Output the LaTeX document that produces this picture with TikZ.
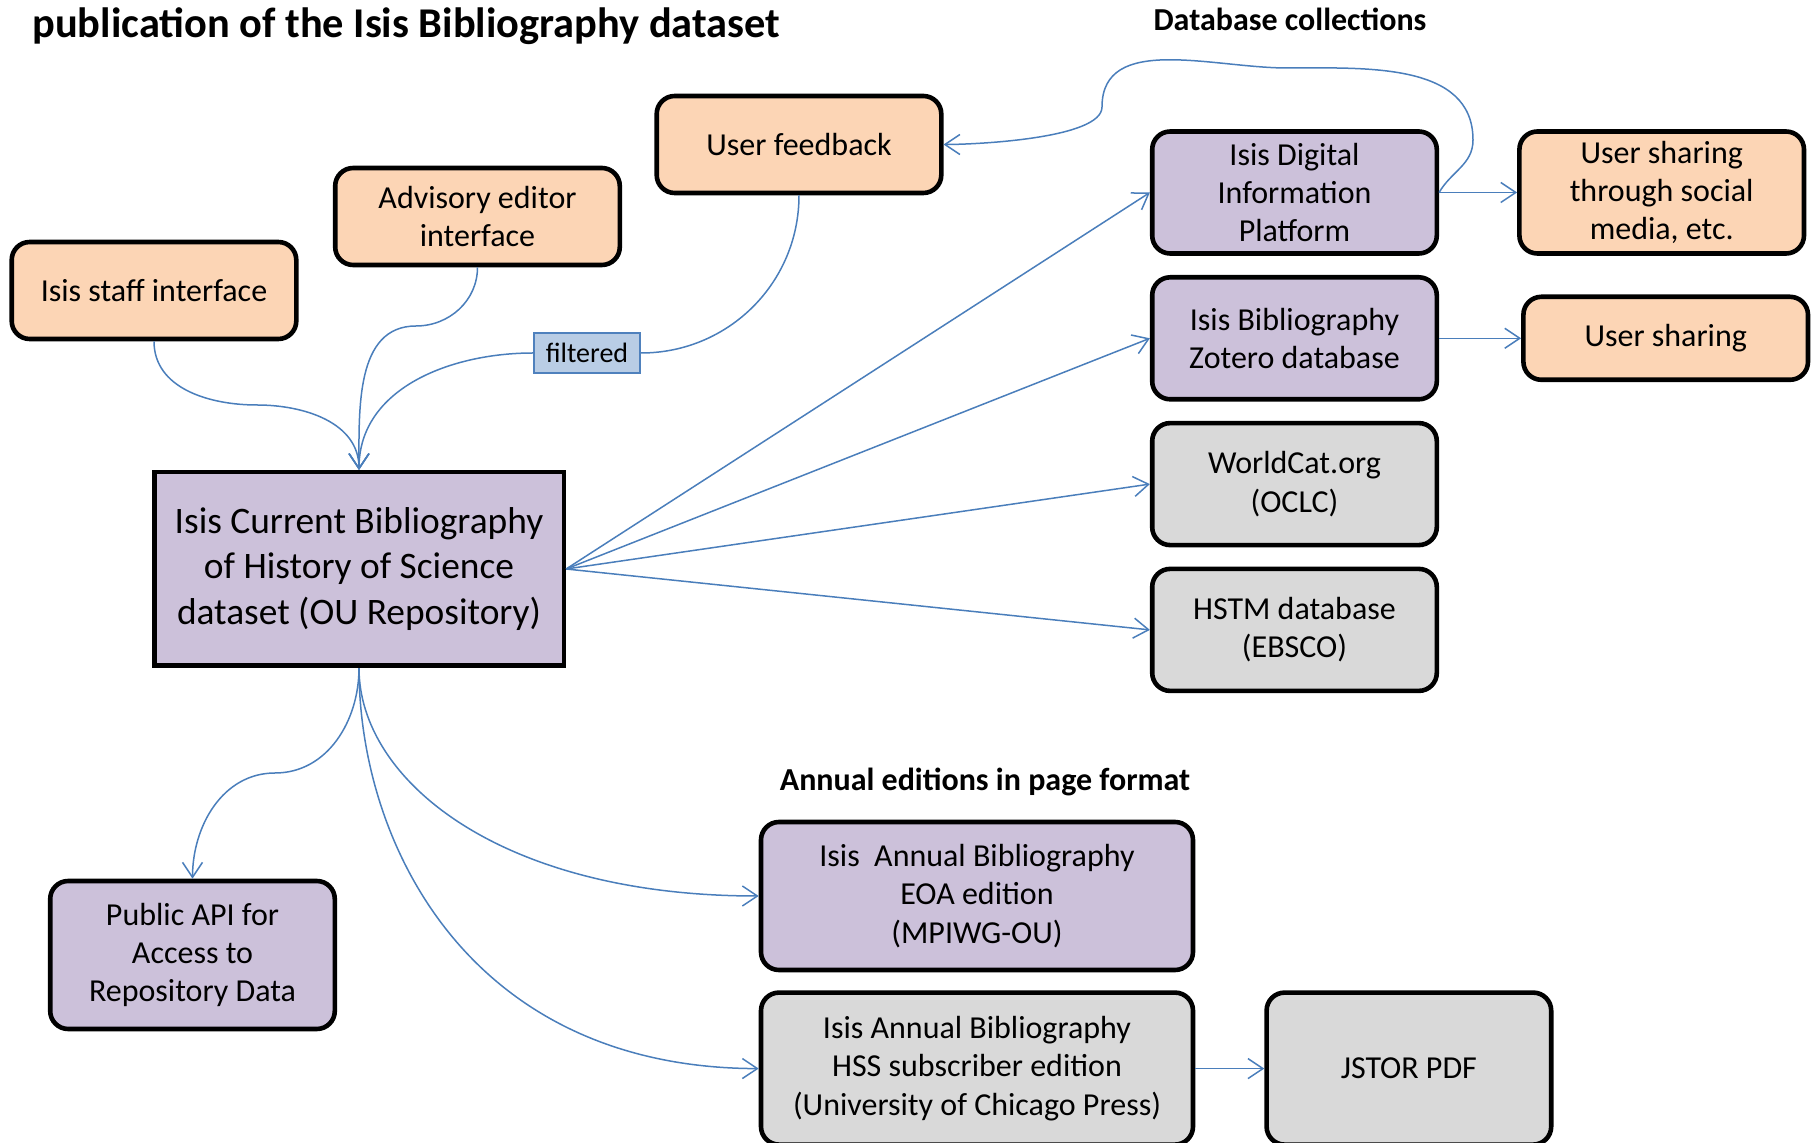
\documentclass[tikz,border=0pt]{standalone}
\usepackage{fontspec}
\setmainfont{Carlito}
\usepackage{tikz}
\usetikzlibrary{arrows.meta,positioning}
\definecolor{IsisOrange}{HTML}{FCD5B5}
\definecolor{IsisPurple}{HTML}{CCC1DA}
\definecolor{IsisGrey}{HTML}{D9D9D9}
\definecolor{IsisLine}{HTML}{4A7EBB}
\definecolor{IsisFilter}{HTML}{B9CDE5}
\definecolor{IsisFilterEdge}{HTML}{4F81BD}

\begin{document}
\begin{tikzpicture}[
  x=0.5pt,y=-0.5pt,
  node distance=9.6pt and 39pt,
  box/.style={draw=black,line width=2.3pt,rounded corners=9pt,
    minimum width=142.3pt,minimum height=48.5pt,align=center,inner sep=2pt,
    font=\fontsize{16}{19.2}\selectfont},
  userbox/.style={box,fill=IsisOrange},
  databox/.style={box,fill=IsisPurple},
  extbox/.style={box,fill=IsisGrey},
  colbox/.style={minimum height=61pt},
  head/.style={anchor=base,inner sep=0pt,font=\bfseries\fontsize{16}{19}\selectfont},
  conn/.style={line width=0.75pt,color=IsisLine},
  arr/.style={conn,-{Straight Barb[length=7.5pt,width=10pt]}}
]
\useasboundingbox (0,0) rectangle (1816,1143);
\node[anchor=base west,inner sep=0pt,font=\bfseries\fontsize{21.2}{25}\selectfont] (title) at (32,38) {publication of the Isis Bibliography dataset};
\node[head] (dbhead) at (1290,31) {Database collections};
\node[head] (annhead) at (985,791) {Annual editions in page format};

\node[draw=black,line width=2.3pt,fill=IsisPurple,minimum width=204.8pt,minimum height=96.8pt,
  align=center,font=\fontsize{18.7}{22.7}\selectfont] (cb) at (359,569)
  {Isis Current Bibliography\\of History of Science\\dataset (OU Repository)};

\node[userbox] (staff) at (154,290.5) {Isis staff interface};
\node[userbox] (adv) at (477.5,216.5) {Advisory editor\\interface};
\node[userbox] (fb) at (799,144.5) {User feedback};
\node[draw=IsisFilterEdge,line width=1pt,fill=IsisFilter,minimum width=53pt,minimum height=20pt,
  inner sep=1pt,font=\fontsize{14}{16}\selectfont] (filt) at (587,353) {filtered};

\node[databox,colbox] (plat) at (1294.5,192.5) {Isis Digital\\Information\\Platform};
\node[databox,colbox,below=of plat] (zot) {Isis Bibliography\\Zotero database};
\node[extbox,colbox,below=of zot] (wcat) {WorldCat.org\\(OCLC)};
\node[extbox,colbox,below=of wcat] (hstm) {HSTM database\\(EBSCO)};
\node[userbox,colbox,right=of plat] (social) {User sharing\\through social\\media, etc.};
\node[userbox,minimum height=41.5pt,right=41pt of zot] (share) {User sharing};

\node[databox,minimum height=74pt] (api) at (192.5,955) {Public API for\\Access to\\Repository Data};
\node[databox,minimum width=216pt,minimum height=74pt] (eoa) at (977,896)
  {Isis\ \ Annual Bibliography\\EOA edition\\(MPIWG-OU)};
\node[extbox,minimum width=216pt,minimum height=76pt,below=9pt of eoa] (hss)
  {Isis Annual Bibliography\\HSS subscriber edition\\(University of Chicago Press)};
\node[extbox,minimum height=76pt,right=34.5pt of hss] (jstor) {JSTOR PDF};

\draw[arr] (staff.south) to[out=-90,in=180] (257,405) to[out=0,in=90] (cb.north);
\draw[arr] (adv.south) to[out=-90,in=0] (416,326) to[out=180,in=90] (cb.north);
\draw[conn] (fb.south) to[out=-90,in=0] (filt.east);
\draw[arr] (filt.west) to[out=180,in=90] (cb.north);
\draw[arr] (plat.east) to[out=60,in=-90] (1473,140) to[out=90,in=0] (1287,68)
  to[out=180,in=90] (1102,107) to[out=-90,in=0,looseness=0.5] (fb.east);
\foreach \dest in {plat,zot,wcat,hstm}
  \draw[arr] (cb.east) -- (\dest.west);
\draw[arr] (plat.east) -- (social.west);
\draw[arr] (zot.east) -- (share.west);
\draw[arr] (cb.south) to[out=-90,in=0] (275,773) to[out=180,in=90] (api.north);
\draw[arr] (cb.south) .. controls (359,780) and (500,896) .. (eoa.west);
\draw[arr] (cb.south) .. controls (359,845) and (470,1068) .. (hss.west);
\draw[arr] (hss.east) -- (jstor.west);
\end{tikzpicture}
\end{document}
